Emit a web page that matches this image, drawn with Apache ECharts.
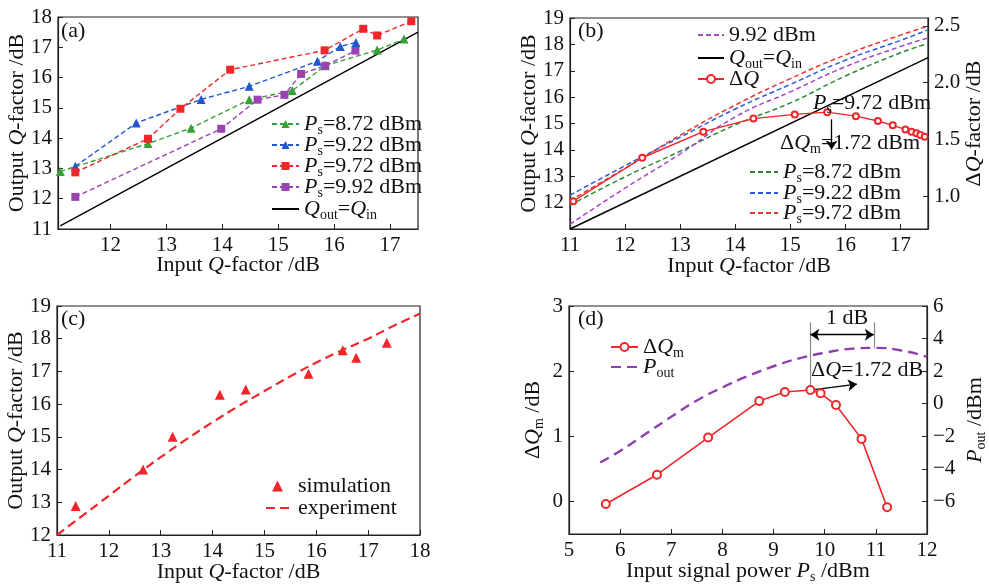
<!DOCTYPE html>
<html><head><meta charset="utf-8">
<script src="https://cdn.jsdelivr.net/npm/echarts@6/dist/echarts.min.js"></script>
<style>html,body{margin:0;padding:0;background:#fff}#c{width:989px;height:588px}</style>
</head><body><div id="c"></div>
<script>
// ---------- Panel (a) data ----------
const aGreenX  = [11.1, 12.67, 13.44, 14.48, 15.25, 15.84, 16.77, 17.25];
const aGreenY  = [12.9, 13.82, 14.33, 15.27, 15.57, 16.39, 16.91, 17.27];
const aBlueX   = [11.37, 12.46, 13.62, 14.48, 15.70, 16.11, 16.39];
const aBlueY   = [13.07, 14.5, 15.28, 15.71, 16.54, 17.03, 17.16];
const aRedX    = [11.37, 12.67, 13.25, 14.14, 15.83, 16.52, 16.77, 17.38];
const aRedY    = [12.87, 13.98, 14.97, 16.26, 16.9, 17.61, 17.39, 17.86];
const aPurpleX = [11.37, 13.98, 14.63, 15.11, 15.41, 15.84, 16.38];
const aPurpleY = [12.06, 14.31, 15.27, 15.43, 16.12, 16.39, 16.89];
const aRefX = [11.1, 17.5];
const aRefY = [11.1, 17.5];
const aXTicks = [12, 13, 14, 15, 16, 17];
const aYTicks = [11, 12, 13, 14, 15, 16, 17, 18];

// ---------- Panel (b) data ----------
const bX      = [11, 12, 13, 14, 15, 16, 17, 17.5];
const bGreen  = [11.9, 12.98, 13.95, 14.95, 15.78, 16.8, 17.68, 18.03];
const bBlue   = [12.28, 13.4, 14.48, 15.55, 16.48, 17.4, 18.15, 18.55];
const bRed    = [12.08, 13.3, 14.55, 15.7, 16.7, 17.6, 18.35, 18.69];
const bPurple = [11.18, 12.55, 13.85, 15.25, 16.2, 17.15, 17.92, 18.24];
const bRefX = [11, 17.5];
const bRefY = [11, 17.5];
const bDQx = [11.06, 12.31, 13.42, 14.33, 15.08, 15.67, 16.19, 16.59, 16.86, 17.09, 17.2, 17.29, 17.36, 17.44];
const bDQy = [0.955, 1.338, 1.568, 1.683, 1.72, 1.74, 1.705, 1.662, 1.624, 1.588, 1.568, 1.553, 1.538, 1.524];
const bXTicks = [11, 12, 13, 14, 15, 16, 17];
const bYTicks = [12, 13, 14, 15, 16, 17, 18, 19];
const bY2Ticks = [1.0, 1.5, 2.0, 2.5];

// ---------- Panel (c) data ----------
const cSimX = [11.36, 12.66, 13.23, 14.14, 14.64, 15.85, 16.51, 16.77, 17.36];
const cSimY = [12.89, 14.0, 15.0, 16.29, 16.45, 16.93, 17.65, 17.42, 17.88];
const cExpX = [11, 11.5, 12, 12.5, 13, 13.5, 14, 14.5, 15, 15.5, 16, 16.5, 17, 17.5, 18];
const cExpY = [12.0, 12.6, 13.2, 13.8, 14.38, 14.93, 15.45, 15.94, 16.4, 16.85, 17.27, 17.65, 18.0, 18.4, 18.77];
const cXTicks = [11, 12, 13, 14, 15, 16, 17, 18];
const cYTicks = [12, 13, 14, 15, 16, 17, 18, 19];

// ---------- Panel (d) data ----------
const dPs   = [5.72, 6.72, 7.72, 8.72, 9.22, 9.72, 9.92, 10.22, 10.72, 11.22];
const dDQm  = [-0.04, 0.41, 0.98, 1.54, 1.68, 1.71, 1.66, 1.48, 0.96, -0.09];
const dPoutX = [5.61, 6.0, 6.5, 7.0, 7.5, 8.0, 8.5, 9.0, 9.5, 10.0, 10.5, 11.0, 11.5, 12.0];
const dPout  = [-3.61, -2.9, -1.85, -0.8, 0.2, 1.0, 1.7, 2.3, 2.78, 3.13, 3.37, 3.43, 3.27, 2.88];
const dXTicks = [5, 6, 7, 8, 9, 10, 11, 12];
const dYTicks = [0, 1, 2, 3];
const dY2Ticks = [-6, -4, -2, 0, 2, 4, 6];

// ---------- styles ----------
const FF = 'Liberation Serif';
const TXT = '#111';
const LINE = '#222';
const FS = 22;
const TFS = 21;
const LH = 26;
const rich = {
  i:   {fontFamily: FF, fontStyle: 'italic', fontSize: FS, lineHeight: LH, color: TXT},
  n:   {fontFamily: FF, fontSize: FS, lineHeight: LH, color: TXT},
  np:  {fontFamily: FF, fontSize: FS, lineHeight: LH, color: TXT, padding: [0, 0, 0, 10]},
  sub: {fontFamily: FF, fontSize: 14, lineHeight: 10, verticalAlign: 'bottom', color: TXT}
};
const C = {green: '#35a035', blue: '#2157cc', red: '#f0262a', purple: '#9a42b4',
           bgreen: '#2a8a36', bblue: '#2a5ee0', bred: '#f03434', bpurple: '#a444c8', pout: '#8e3fb0'};

const pairs = (X, Y) => X.map((x, i) => [x, Y[i]]);
const minus = v => (v < 0 ? '\u2212' + Math.abs(v) : String(v));

function axis(gi, min, max, ticks, fmt) {
  return {
    type: 'value', gridIndex: gi, min: min, max: max,
    axisLine: {show: true, onZero: false, lineStyle: {color: LINE, width: 1.2}},
    axisTick: {show: true, inside: true, length: 5, customValues: ticks, lineStyle: {color: LINE, width: 1}},
    axisLabel: {show: true, customValues: ticks, color: TXT, fontFamily: FF, fontSize: TFS, margin: 6,
                formatter: fmt || (v => minus(v))},
    splitLine: {show: false}, minorTick: {show: false},
    nameLocation: 'middle', nameMoveOverlap: false,
    nameTextStyle: {color: TXT, fontFamily: FF, fontSize: FS, lineHeight: LH, rich: rich}
  };
}
function withName(ax, name, gap, rot) {
  ax.name = name; ax.nameGap = gap;
  if (rot !== undefined) ax.nameRotate = rot;
  return ax;
}
function grid(l, t, w, h) {
  return {left: l, top: t, width: w, height: h, show: true, borderColor: LINE, borderWidth: 1.2,
          backgroundColor: 'transparent', containLabel: false, outerBoundsMode: 'none'};
}

const LABELS = {
  a1: '{i|P}{sub|s}{n|=8.72 dBm}', a2: '{i|P}{sub|s}{n|=9.22 dBm}', a3: '{i|P}{sub|s}{n|=9.72 dBm}',
  a4: '{i|P}{sub|s}{n|=9.92 dBm}', a5: '{i|Q}{sub|out}{n|=}{i|Q}{sub|in}',
  b4: '{n|9.92 dBm}', b5: '{i|Q}{sub|out}{n|=}{i|Q}{sub|in}', b6: '{n|Δ}{i|Q}',
  b1: '{i|P}{sub|s}{n|=8.72 dBm}', b2: '{i|P}{sub|s}{n|=9.22 dBm}', b3: '{i|P}{sub|s}{n|=9.72 dBm}',
  c1: '{np|simulation}', c2: '{n|experiment}',
  d1: '{n|Δ}{i|Q}{sub|m}', d2: '{i|P}{sub|out}'
};
function leg(name, left, center, opts) {
  opts = opts || {};
  const l = {show: true, data: [name], left: left, top: center - LH / 2, orient: 'vertical', padding: 0, itemGap: 0,
          itemWidth: opts.iw || 27, itemHeight: opts.ih || 10, selectedMode: false,
          formatter: n => LABELS[n],
          textStyle: {color: TXT, fontFamily: FF, fontSize: FS, lineHeight: LH, rich: rich}};
  if (opts.noSym) l.itemStyle = {opacity: 0};
  return l;
}

function lineA(name, X, Y, color, sym, size) {
  return {name: name, type: 'line', xAxisIndex: 0, yAxisIndex: 0, data: pairs(X, Y),
          symbol: sym, symbolSize: size, showSymbol: true,
          itemStyle: {color: color}, lineStyle: {color: color, type: [5, 3], width: 1.4}};
}
function curveB(name, Y, color) {
  return {name: name, type: 'line', xAxisIndex: 1, yAxisIndex: 1, data: pairs(bX, Y), smooth: true,
          symbol: 'none', itemStyle: {color: color}, lineStyle: {color: color, type: [5, 3], width: 1.5}};
}
function txt(left, top, text) {
  return {type: 'text', left: left, top: top, z: 100,
          style: {text: text, rich: rich, fontFamily: FF, fontSize: FS, fill: TXT}};
}

const option = {
  animation: false,
  backgroundColor: '#fff',
  grid: [grid(58, 17, 360, 212), grid(570, 18, 358, 211), grid(57, 306, 363, 229), grid(569, 306, 358, 228)],
  xAxis: [
    withName(axis(0, 11.06, 17.5, aXTicks), '{n|Input }{i|Q}{n|-factor /dB}', 23),
    withName(axis(1, 11, 17.5, bXTicks), '{n|Input }{i|Q}{n|-factor /dB}', 24),
    withName(axis(2, 11, 18, cXTicks), '{n|Input }{i|Q}{n|-factor /dB}', 24),
    withName(axis(3, 5, 12, dXTicks), '{n|Input signal power }{i|P}{sub|s}{n| /dBm}', 24)
  ],
  yAxis: [
    withName(axis(0, 11, 18, aYTicks), '{n|Output }{i|Q}{n|-factor /dB}', 28, 90),
    withName(axis(1, 11, 19, bYTicks), '{n|Output }{i|Q}{n|-factor /dB}', 28, 90),
    Object.assign(withName(axis(1, 0.71, 2.57, bY2Ticks, v => v.toFixed(1)), '{n|Δ}{i|Q}{n|-factor /dB}', 33, 90), {position: 'right'}),
    withName(axis(2, 12, 19, cYTicks), '{n|Output }{i|Q}{n|-factor /dB}', 28, 90),
    withName(axis(3, -0.5, 3, dYTicks), '{n|Δ}{i|Q}{sub|m}{n| /dB}', 23, 90),
    Object.assign(withName(axis(3, -8, 6, dY2Ticks), '{i|P}{sub|out}{n| /dBm}', 35, 90), {position: 'right'})
  ],
  legend: [
    leg('a1', 271, 124), leg('a2', 271, 145), leg('a3', 271, 166), leg('a4', 271, 187),
    leg('a5', 271, 209, {noSym: true}),
    leg('b4', 697, 35, {iw: 26, noSym: true}), leg('b5', 697, 58, {iw: 26, noSym: true}), leg('b6', 697, 79, {iw: 26}),
    leg('b1', 749, 172, {iw: 28, noSym: true}), leg('b2', 749, 193, {iw: 28, noSym: true}), leg('b3', 749, 213, {iw: 28, noSym: true}),
    leg('c1', 272, 486, {iw: 11, ih: 11}), leg('c2', 265, 508, {noSym: true}),
    leg('d1', 610, 347), leg('d2', 610, 367, {noSym: true})
  ],
  graphic: [
    txt(61, 20, '(a)'), txt(578, 20, '(b)'), txt(61, 308, '(c)'), txt(578, 308, '(d)'),
    txt(813, 92, '{i|P}{sub|s}{n|=9.72 dBm}'),
    txt(780, 132, '{n|Δ}{i|Q}{sub|m}{n|=1.72 dBm}'),
    txt(826, 307, '{n|1 dB}'),
    txt(811, 359, '{n|Δ}{i|Q}{n|=1.72 dB}')
  ],
  series: [
    // (a)
    {name: 'a5', type: 'line', xAxisIndex: 0, yAxisIndex: 0, data: pairs(aRefX, aRefY), symbol: 'none',
     itemStyle: {color: '#000'}, lineStyle: {color: '#000', width: 1.4}},
    lineA('a1', aGreenX, aGreenY, C.green, 'triangle', 9),
    lineA('a4', aPurpleX, aPurpleY, C.purple, 'rect', 8),
    lineA('a2', aBlueX, aBlueY, C.blue, 'triangle', 9),
    lineA('a3', aRedX, aRedY, C.red, 'rect', 8),
    // (b)
    {name: 'b5', type: 'line', xAxisIndex: 1, yAxisIndex: 1, data: pairs(bRefX, bRefY), symbol: 'none',
     itemStyle: {color: '#000'}, lineStyle: {color: '#000', width: 1.4}},
    curveB('b1', bGreen, C.bgreen),
    curveB('b4', bPurple, C.bpurple),
    curveB('b2', bBlue, C.bblue),
    curveB('b3', bRed, C.bred),
    {name: 'b6', type: 'line', xAxisIndex: 1, yAxisIndex: 2, data: pairs(bDQx, bDQy),
     symbol: 'emptyCircle', symbolSize: 6, itemStyle: {color: C.red, borderWidth: 1.2},
     lineStyle: {color: C.red, width: 1.4}, z: 5,
     markLine: {silent: true, label: {show: false}, symbolSize: 9,
       lineStyle: {color: '#000', width: 1.3, type: 'solid'},
       data: [[{coord: [15.75, 1.677], symbol: 'none'}, {coord: [15.75, 1.41], symbol: 'arrow'}]]}},
    // (c)
    {name: 'c2', type: 'line', xAxisIndex: 2, yAxisIndex: 3, data: pairs(cExpX, cExpY), smooth: true,
     symbol: 'none', itemStyle: {color: C.red}, lineStyle: {color: C.red, type: [9, 5], width: 2.2}},
    {name: 'c1', type: 'scatter', xAxisIndex: 2, yAxisIndex: 3, data: pairs(cSimX, cSimY),
     symbol: 'triangle', symbolSize: 10, itemStyle: {color: C.red, opacity: 1}},
    // (d)
    {name: 'd2', type: 'line', xAxisIndex: 3, yAxisIndex: 5, data: pairs(dPoutX, dPout), smooth: true,
     symbol: 'none', itemStyle: {color: C.pout}, lineStyle: {color: C.pout, type: [10, 6], width: 2.4}},
    {name: 'd1', type: 'line', xAxisIndex: 3, yAxisIndex: 4, data: pairs(dPs, dDQm),
     symbol: 'emptyCircle', symbolSize: 8, itemStyle: {color: C.red, borderWidth: 1.3},
     lineStyle: {color: C.red, width: 1.6}, z: 5,
     markLine: {silent: true, label: {show: false}, symbolSize: 9,
       lineStyle: {color: '#000', width: 1.3, type: 'solid'},
       data: [
         [{coord: [9.72, 2.75], symbol: 'none', lineStyle: {color: '#888', width: 1.2}}, {coord: [9.72, 1.71], symbol: 'none'}],
         [{coord: [10.96, 2.75], symbol: 'none', lineStyle: {color: '#888', width: 1.2}}, {coord: [10.96, 2.35], symbol: 'none'}],
         [{coord: [9.72, 2.56], symbol: 'arrow'}, {coord: [10.96, 2.56], symbol: 'arrow'}],
         [{coord: [9.72, 1.71], symbol: 'none'}, {coord: [10.63, 1.80], symbol: 'arrow'}]
       ]}}
  ]
};
const chart = echarts.init(document.getElementById('c'), null, {renderer: 'canvas'});
chart.setOption(option);
</script>
</body></html>
